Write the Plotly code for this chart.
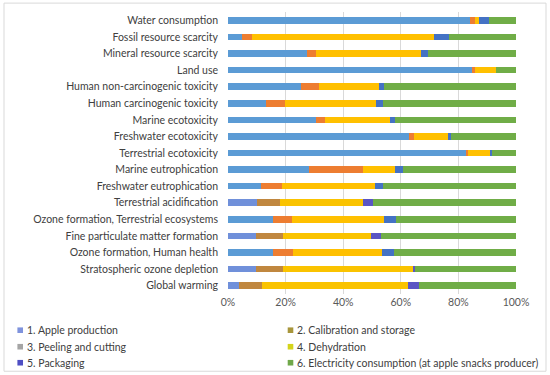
import plotly.graph_objects as go

categories = [
    "Water consumption", "Fossil resource scarcity", "Mineral resource scarcity", "Land use",
    "Human non-carcinogenic toxicity", "Human carcinogenic toxicity", "Marine ecotoxicity",
    "Freshwater ecotoxicity", "Terrestrial ecotoxicity", "Marine eutrophication",
    "Freshwater eutrophication", "Terrestrial acidification",
    "Ozone formation, Terrestrial ecosystems", "Fine particulate matter formation",
    "Ozone formation, Human health", "Stratospheric ozone depletion", "Global warming",
]
series_names = [
    "1. Apple production", "2. Calibration and storage", "3. Peeling and cutting",
    "4. Dehydration", "5. Packaging", "6. Electricity consumption (at apple snacks producer)",
]
apple_production = [84.1, 4.9, 27.5, 84.7, 25.5, 13.1, 30.6, 63.0, 82.9, 28.2, 11.3, 10.0, 15.5, 9.7, 15.5, 9.7, 3.9]
calibration_storage = [1.7, 3.5, 3.2, 0.9, 6.0, 6.6, 3.2, 1.6, 0.4, 18.6, 7.3, 8.1, 6.7, 9.5, 7.0, 9.3, 8.0]
peeling_cutting = [0, 0, 0, 0, 0, 0, 0, 0, 0, 0, 0, 0, 0, 0, 0, 0, 0]
dehydration = [1.4, 63.0, 36.4, 7.5, 20.8, 31.6, 22.5, 11.8, 7.7, 11.1, 32.3, 28.7, 32.0, 30.3, 31.1, 45.1, 50.7]
packaging = [3.3, 5.3, 2.3, 0.0, 2.0, 2.4, 1.8, 0.9, 0.6, 3.0, 2.8, 3.4, 4.0, 3.7, 3.9, 0.9, 3.8]
electricity = [9.5, 23.3, 30.6, 6.9, 45.7, 46.3, 41.9, 22.7, 8.4, 39.1, 46.3, 49.8, 41.8, 46.8, 42.5, 35.0, 33.6]
series_values = [apple_production, calibration_storage, peeling_cutting, dehydration, packaging, electricity]
x_ticks = [0, 20, 40, 60, 80, 100]

# styles
upper_colors = ["#5B9BD5", "#ED7D31", "#A5A5A5", "#FFC000", "#4472C4", "#70AD47"]
lower_colors = ["#7090DA", "#C0873F", "#A5A5A5", "#FAC300", "#5A55C4", "#70AD47"]
lower_rows = {"Terrestrial acidification", "Fine particulate matter formation",
              "Stratospheric ozone depletion", "Global warming"}
legend_colors = ["#7F93DD", "#A8963C", "#A5A5A5", "#D4D41A", "#4F4FC4", "#70A84A"]

FONT = "Lato"
FS = 10.5
L, R, T, B = 228, 516, 11.9, 293.8
W, H = 550, 375

def px_x(px):
    return (px - L) / (R - L)

def px_y(py):
    return (B - py) / (B - T)

fig = go.Figure()
for i, (name, vals) in enumerate(zip(series_names, series_values)):
    cols = [lower_colors[i] if c in lower_rows else upper_colors[i] for c in categories]
    fig.add_trace(go.Bar(
        y=categories, x=vals, name=name, orientation="h",
        marker=dict(color=cols, line=dict(width=0)), showlegend=False,
    ))

shapes = [dict(type="rect", xref="paper", yref="paper",
               x0=px_x(4), x1=px_x(546), y0=px_y(371), y1=px_y(3),
               line=dict(color="#D9D9D9", width=1), fillcolor="rgba(0,0,0,0)", layer="below")]
annotations = []
legend_pos = [(20.2, 330), (290.5, 330), (20.2, 346.5), (290.5, 346.5), (20.2, 362.5), (290.5, 362.5)]
for (cx, cy), name, col in zip(legend_pos, series_names, legend_colors):
    shapes.append(dict(type="rect", xref="paper", yref="paper",
                       x0=px_x(cx - 2.8), x1=px_x(cx + 2.8), y0=px_y(cy + 2.8), y1=px_y(cy - 2.8),
                       line=dict(width=0), fillcolor=col))
    annotations.append(dict(xref="paper", yref="paper", x=px_x(cx + 4.5), y=px_y(cy),
                            xanchor="left", yanchor="middle", text=name, showarrow=False,
                            font=dict(family=FONT, size=FS, color="#404040")))

fig.update_layout(
    width=W, height=H,
    barmode="stack", bargap=0.6,
    paper_bgcolor="white", plot_bgcolor="white",
    margin=dict(l=L, r=W - R, t=T, b=H - B, autoexpand=False),
    font=dict(family=FONT, size=FS, color="#404040"),
    xaxis=dict(range=[0, 100], tickvals=x_ticks, ticktext=[f"{v}%" for v in x_ticks],
               showgrid=True, gridcolor="#D9D9D9", gridwidth=1, zeroline=False,
               showline=False, ticks="", tickfont=dict(family=FONT, size=FS, color="#595959")),
    yaxis=dict(autorange="reversed", showgrid=False, showline=False, ticks="",
               ticklabelstandoff=9, tickfont=dict(family=FONT, size=FS, color="#404040")),
    shapes=shapes, annotations=annotations,
)

fig.write_html("out.html", config={"displayModeBar": False},
               post_script="document.body.style.margin='0';document.body.style.overflow='hidden';")
